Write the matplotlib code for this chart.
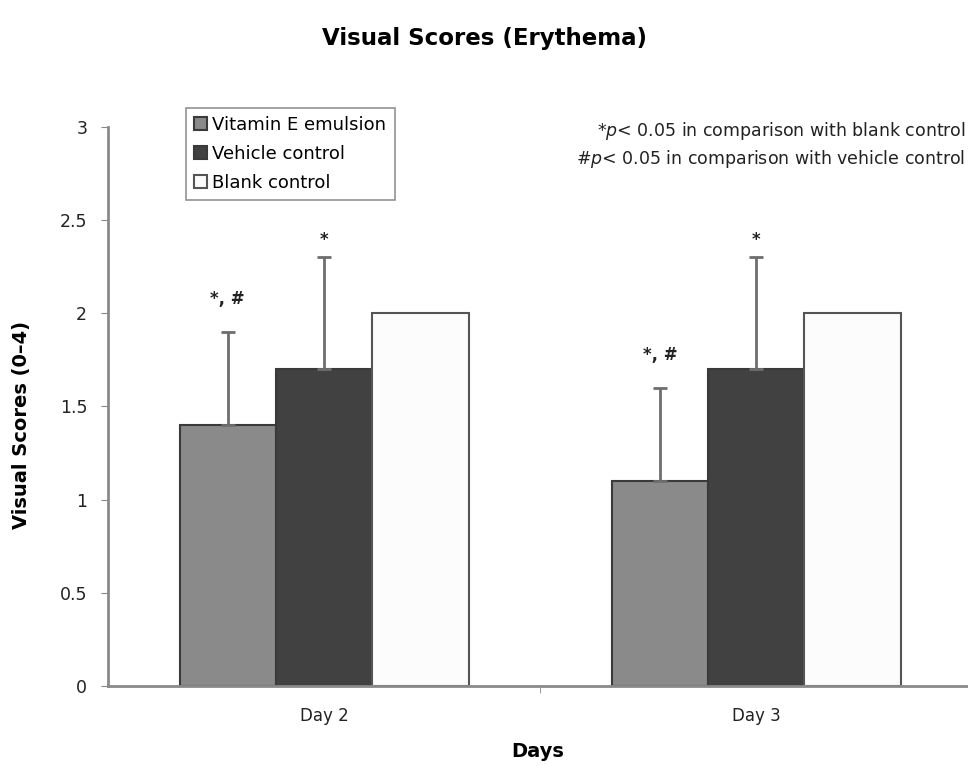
import matplotlib
matplotlib.use("Agg")
import matplotlib.pyplot as plt
import numpy as np

plt.rcParams['font.family'] = ['DejaVu Sans']

days = ["Day 2", "Day 3"]
vitamin_e = [1.4, 1.1]
vitamin_e_sd = [0.5, 0.5]
vehicle = [1.7, 1.7]
vehicle_sd = [0.6, 0.6]
blank = [2.0, 2.0]
vitamin_e_marks = ["*, #", "*, #"]
vehicle_marks = ["*", "*"]

fig = plt.figure(figsize=(9.68, 7.66), dpi=100)
ax = fig.add_axes([0.1116, 0.1044, 0.8884, 0.730])

x = np.arange(len(days))
w = 0.223
edge = "#3a3a3a"
err_kw = dict(ecolor="#6e6e6e", elinewidth=2, capsize=5, capthick=2)

ax.bar(x - w, vitamin_e, w, color="#8a8a8a", edgecolor=edge, linewidth=1.5,
       yerr=[np.zeros(2), vitamin_e_sd], error_kw=err_kw, label="Vitamin E emulsion")
ax.bar(x, vehicle, w, color="#414141", edgecolor=edge, linewidth=1.5,
       yerr=[np.zeros(2), vehicle_sd], error_kw=err_kw, label="Vehicle control")
ax.bar(x + w, blank, w, color="#fcfcfc", edgecolor="#555555", linewidth=1.5,
       label="Blank control")

# significance marks above the error bars
for i in range(len(days)):
    ax.annotate(vitamin_e_marks[i], (x[i] - w, vitamin_e[i] + vitamin_e_sd[i]),
                xytext=(0, 17), textcoords="offset points", ha="center", va="bottom",
                fontsize=12, fontweight="bold", color="#222222")
    ax.annotate(vehicle_marks[i], (x[i], vehicle[i] + vehicle_sd[i]),
                xytext=(0, 6), textcoords="offset points", ha="center", va="bottom",
                fontsize=12, fontweight="bold", color="#222222")

ax.set_xlim(-0.5, 1.49)
ax.set_ylim(0, 3)
ax.set_yticks([0, 0.5, 1, 1.5, 2, 2.5, 3])
ax.set_yticklabels(["0", "0.5", "1", "1.5", "2", "2.5", "3"])
ax.set_xticks(x)
ax.set_xticklabels(days)
ax.set_xticks([0.5], minor=True)
ax.tick_params(axis="x", which="major", length=0, labelsize=12, pad=15, colors="#222222")
ax.tick_params(axis="x", which="minor", length=5, color="#888888")
ax.tick_params(axis="y", length=5, color="#888888", labelsize=12.5, pad=10, labelcolor="#222222")

for s in ["top", "right"]:
    ax.spines[s].set_visible(False)
for s in ["left", "bottom"]:
    ax.spines[s].set_color("#8a8a8a")
    ax.spines[s].set_linewidth(2)

ax.set_xlabel("Days", fontsize=14, fontweight="bold", labelpad=12)
ax.set_ylabel("Visual Scores (0–4)", fontsize=14, fontweight="bold")
ax.yaxis.set_label_coords(-0.09, 0.466)
fig.suptitle("Visual Scores (Erythema)", fontsize=16.5, fontweight="bold", y=0.965)

leg = ax.legend(loc="upper left", bbox_to_anchor=(0.091, 1.034), fontsize=13,
                frameon=True, fancybox=False, edgecolor="#777777",
                handlelength=0.7, handleheight=0.7, handletextpad=0.3,
                borderpad=0.45, labelspacing=0.6, borderaxespad=0)
leg.get_frame().set_linewidth(1.2)

ax.text(0.997, 1.012, "*$p$< 0.05 in comparison with blank control\n#$p$< 0.05 in comparison with vehicle control",
        transform=ax.transAxes, ha="right", va="top", fontsize=12.5,
        linespacing=1.35, color="#222222")

fig.savefig("out.png", dpi=100)
